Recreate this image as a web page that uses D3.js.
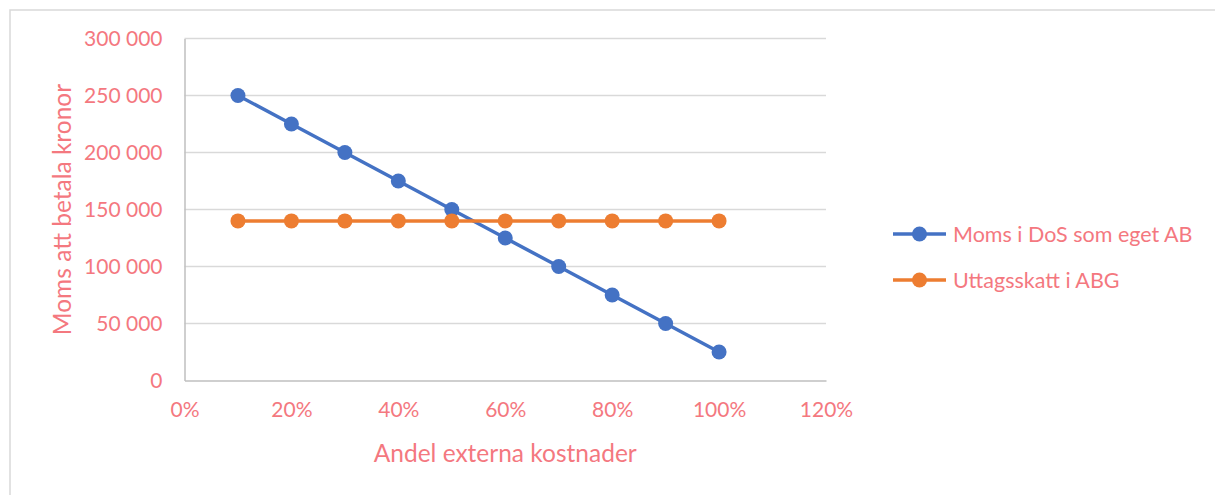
<!DOCTYPE html>
<html>
<head>
<meta charset="utf-8">
<script src="https://cdn.jsdelivr.net/npm/d3@7"></script>
<style>
  html, body { margin: 0; padding: 0; background: #fff; }
  svg { display: block; }
  text { font-family: Lato, "Open Sans", sans-serif; fill: #F4787F; }
</style>
</head>
<body>
<svg id="chart" width="1215" height="495"></svg>
<script>
// Share of external costs (x) and VAT payable (y)
const shares = [0.1, 0.2, 0.3, 0.4, 0.5, 0.6, 0.7, 0.8, 0.9, 1.0];
const momsDoS = [250000, 225000, 200000, 175000, 150000, 125000, 100000, 75000, 50000, 25000];
const uttagsskatt = [140000, 140000, 140000, 140000, 140000, 140000, 140000, 140000, 140000, 140000];
const seriesNames = ["Moms i DoS som eget AB", "Uttagsskatt i ABG"];
const seriesColors = ["#4472C4", "#ED7D31"];
const xTicks = [0, 0.2, 0.4, 0.6, 0.8, 1.0, 1.2];
const yTicks = [0, 50000, 100000, 150000, 200000, 250000, 300000];
const xTitle = "Andel externa kostnader";
const yTitle = "Moms att betala kronor";

const svg = d3.select("#chart");

// outer chart frame
svg.append("rect")
  .attr("x", 10).attr("y", 10)
  .attr("width", 1220).attr("height", 500)
  .attr("fill", "none").attr("stroke", "#D9D9D9").attr("stroke-width", 1.5);

const plot = { left: 184.5, right: 826, top: 38.5, bottom: 380.5 };

const x = d3.scaleLinear().domain([0, 1.2]).range([plot.left, plot.right]);
const y = d3.scaleLinear().domain([0, 300000]).range([plot.bottom, plot.top]);

const fmtY = v => d3.format(",")(v).replace(/,/g, " ");
const fmtX = v => Math.round(v * 100) + "%";

// horizontal gridlines
svg.append("g")
  .selectAll("line")
  .data(yTicks.filter(d => d > 0))
  .join("line")
  .attr("x1", plot.left).attr("x2", plot.right)
  .attr("y1", d => y(d)).attr("y2", d => y(d))
  .attr("stroke", "#D9D9D9").attr("stroke-width", 1.5);

// y axis
const yAxis = svg.append("g")
  .attr("transform", `translate(${plot.left},0)`)
  .call(d3.axisLeft(y).tickValues(yTicks).tickFormat(fmtY).tickSize(0).tickPadding(22));
yAxis.select(".domain").attr("stroke", "#BFBFBF").attr("stroke-width", 1.5);
yAxis.selectAll("text").attr("font-size", 21).attr("fill", "#F4787F").attr("font-family", "Lato, sans-serif");

// x axis
const xAxis = svg.append("g")
  .attr("transform", `translate(0,${plot.bottom})`)
  .call(d3.axisBottom(x).tickValues(xTicks).tickFormat(fmtX).tickSize(0).tickPadding(22));
xAxis.select(".domain").attr("stroke", "#BFBFBF").attr("stroke-width", 1.5);
xAxis.selectAll("text").attr("font-size", 21).attr("fill", "#F4787F").attr("font-family", "Lato, sans-serif");

// axis titles
svg.append("text")
  .attr("x", (plot.left + plot.right) / 2).attr("y", 453)
  .attr("dy", "0.35em")
  .attr("text-anchor", "middle").attr("font-size", 24.5)
  .text(xTitle);

svg.append("text")
  .attr("transform", `translate(62,${(plot.top + plot.bottom) / 2}) rotate(-90)`)
  .attr("dy", "0.35em")
  .attr("text-anchor", "middle").attr("font-size", 24.5)
  .text(yTitle);

// series
const series = [momsDoS, uttagsskatt];
const line = d3.line().x(d => x(d[0])).y(d => y(d[1]));

series.forEach((vals, i) => {
  const pts = shares.map((s, j) => [s, vals[j]]);
  const g = svg.append("g");
  g.append("path")
    .datum(pts)
    .attr("d", line)
    .attr("fill", "none")
    .attr("stroke", seriesColors[i])
    .attr("stroke-width", 3.5)
    .attr("stroke-linejoin", "round");
  g.selectAll("circle")
    .data(pts)
    .join("circle")
    .attr("cx", d => x(d[0])).attr("cy", d => y(d[1]))
    .attr("r", 7.5)
    .attr("fill", seriesColors[i]);
});

// legend
const legend = svg.append("g");
seriesNames.forEach((name, i) => {
  const ly = 234 + i * 46;
  legend.append("line")
    .attr("x1", 893).attr("x2", 946).attr("y1", ly).attr("y2", ly)
    .attr("stroke", seriesColors[i]).attr("stroke-width", 3.5);
  legend.append("circle")
    .attr("cx", 919.5).attr("cy", ly).attr("r", 7.5)
    .attr("fill", seriesColors[i]);
  legend.append("text")
    .attr("x", 953).attr("y", ly)
    .attr("dy", "0.35em")
    .attr("font-size", 21.5)
    .text(name);
});
</script>
</body>
</html>
